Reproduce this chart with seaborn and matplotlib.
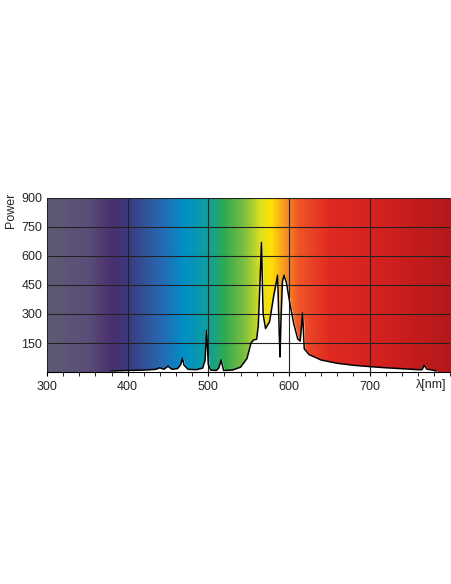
import numpy as np
import pandas as pd
import matplotlib
matplotlib.use("Agg")
import matplotlib.pyplot as plt
import seaborn as sns
from matplotlib.colors import LinearSegmentedColormap

sns.set_style("white")
plt.rcParams['font.family'] = ['Liberation Sans', 'DejaVu Sans']

# spectrum
wavelength = [380, 400, 420, 435, 440, 445, 450, 455, 462, 466, 468, 470, 475, 485, 493, 496, 498,
              500, 503, 510, 513, 516, 519, 530, 540, 548, 553, 556, 560, 562, 564, 566, 568, 571,
              576, 581, 586, 588, 589, 590, 592, 594, 597, 601, 606, 611, 614, 617, 619, 625, 640,
              660, 680, 700, 720, 745, 760, 765, 768, 771, 778, 783]
power = [5, 8, 10, 14, 22, 14, 30, 14, 18, 40, 72, 35, 14, 12, 20, 60, 215,
         40, 10, 8, 20, 62, 8, 10, 25, 70, 150, 165, 170, 240, 450, 670, 300, 225,
         260, 390, 500, 200, 78, 250, 470, 500, 460, 360, 250, 170, 160, 305, 120, 90, 62,
         45, 35, 28, 22, 16, 12, 12, 35, 15, 10, 5]
df = pd.DataFrame({'nm': wavelength, 'power': power})

x_ticks = [300, 400, 500, 600, 700]
y_ticks = [150, 300, 450, 600, 750, 900]

spec_nm = [300, 350, 380, 400, 440, 470, 500, 520, 545, 565, 578, 592, 612, 650, 720, 800]
spec_col = ['#5e5b74', '#5a4e78', '#4a2f6e', '#3b3a80', '#2868b0', '#0090c8', '#10a09c', '#30aa50',
            '#80c040', '#e0e020', '#ffe000', '#f8a020', '#f05528', '#e02a22', '#d22020', '#b4181a']
xmin, xmax = 300, 800
cmap = LinearSegmentedColormap.from_list(
    'spec', [((n - xmin) / (xmax - xmin), c) for n, c in zip(spec_nm, spec_col)])

fig = plt.figure(figsize=(4.52, 5.84), dpi=100)
ax = fig.add_axes([0.104, 0.363, 0.892, 0.298])
ax.imshow(np.linspace(0, 1, 512)[None, :], cmap=cmap, aspect='auto',
          extent=[xmin, xmax, 0, 900], zorder=0)
ax.fill_between(df['nm'], df['power'], color='white', zorder=1)
sns.lineplot(data=df, x='nm', y='power', color='black', linewidth=1.1, ax=ax, zorder=3)

ax.set_xlim(xmin, xmax)
ax.set_ylim(0, 900)
ax.set_xticks(x_ticks)
ax.set_xticks(np.arange(300, 801, 20), minor=True)
ax.set_yticks(y_ticks)
ax.grid(True, color='#222222', linewidth=0.8, zorder=2)
ax.set_axisbelow(False)
for s in ax.spines.values():
    s.set_visible(False)
ax.spines['bottom'].set_visible(True)
ax.spines['bottom'].set_color('black')
ax.tick_params(axis='x', which='both', direction='out', length=3, color='black', bottom=True)
ax.tick_params(axis='y', length=0, labelsize=9)
ax.tick_params(axis='x', labelsize=9)
ax.set_xlabel('')
ax.set_ylabel('')
ax.text(0.99, -0.075, 'λ[nm]', transform=ax.transAxes, ha='right', va='center', fontsize=9)
fig.text(0.012, 0.64, 'Power', rotation=90, ha='left', va='center', fontsize=9)

fig.savefig('out.png', dpi=100)
